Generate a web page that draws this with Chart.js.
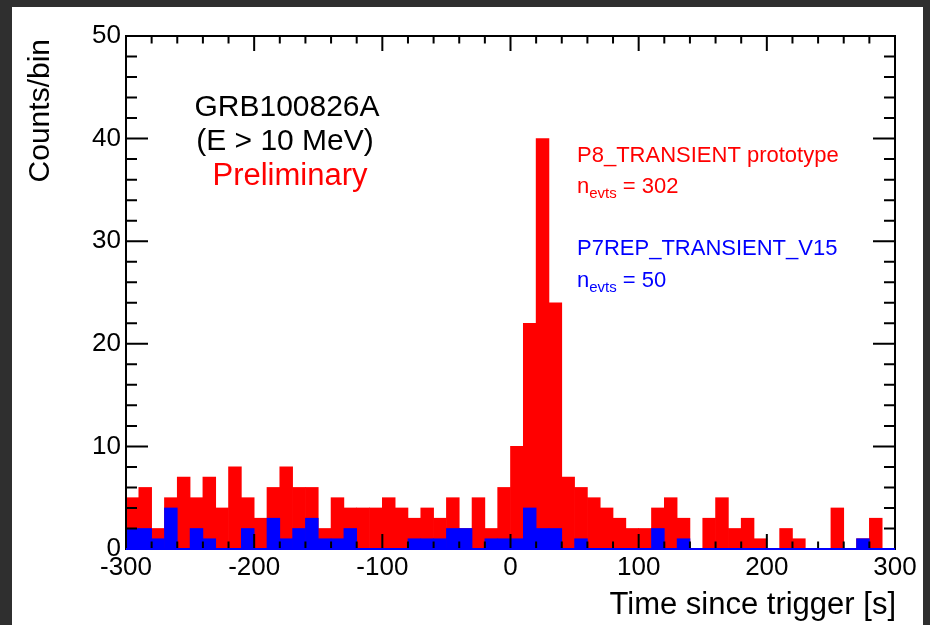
<!DOCTYPE html>
<html lang="zh-CN">
<head>
<meta charset="UTF-8">
<title>GRB100826A 光变曲线</title>
<script src="https://cdn.jsdelivr.net/npm/chart.js@4.4.1/dist/chart.umd.min.js"></script>
<style>
  html, body { margin: 0; padding: 0; background: #2f2f2f; }
  #wrap { width: 930px; height: 625px; }
</style>
</head>
<body>
<div id="wrap"><canvas id="grb-chart" width="930" height="625"></canvas></div>
<script>
// 分箱：-300 s 到 300 s，每箱 10 s
const binStart = -300;
const binWidth = 10;

// P8_TRANSIENT prototype 每箱计数
const p8Counts = [
  5, 6, 2, 5, 7, 5, 7, 4, 8, 5, 3, 6, 8, 6,
  6, 2, 5, 4, 4, 4, 5, 4, 3, 4, 3, 5, 2, 5, 2, 6,
  10, 22, 40, 24, 7, 6, 5, 4, 3,
  2, 2, 4, 5, 3, 0, 3, 5, 2, 3, 1, 0, 2, 1, 0, 0, 4, 0, 1, 3, 0
];

// P7REP_TRANSIENT_V15 每箱计数
const p7Counts = [
  2, 2, 1, 4, 0, 2, 1, 0, 0, 2, 0, 3, 1, 2,
  3, 1, 1, 2, 0, 0, 0, 0, 1, 1, 1, 2, 2, 0, 1, 1,
  1, 4, 2, 2, 0, 1, 0, 0, 0,
  0, 0, 2, 0, 1, 0, 0, 0, 0, 0, 0, 0, 0, 0, 0, 0, 0, 0, 1, 0, 0
];

const xTicks = [-300, -200, -100, 0, 100, 200, 300];
const yTicks = [0, 10, 20, 30, 40, 50];

const p8Events = 302;
const p7Events = 50;

const FONT = '"Liberation Sans", Arial, Helvetica, sans-serif';

// 计数 -> 柱子（x 取箱中心）
function toPoints(counts) {
  return counts.map((c, i) => ({ x: binStart + binWidth * (i + 0.5), y: c }));
}

// 背景、边框和刻度（刻度画在柱子上面）
const rootFrame = {
  id: 'rootFrame',
  beforeDraw(chart) {
    const ctx = chart.ctx;
    ctx.save();
    ctx.fillStyle = '#2f2f2f';
    ctx.fillRect(0, 0, chart.width, chart.height);
    ctx.fillStyle = '#ffffff';
    ctx.fillRect(12, 7, 911, 618);
    ctx.restore();
  },
  afterDatasetsDraw(chart) {
    const { ctx, chartArea: a } = chart;
    const x = chart.scales.x;
    const y = chart.scales.y;
    ctx.save();
    ctx.strokeStyle = '#000000';
    ctx.lineWidth = 2;
    ctx.beginPath();
    for (let v = x.min; v <= x.max; v += 20) {
      const px = x.getPixelForValue(v);
      const len = v % 100 === 0 ? 15 : 7.5;
      ctx.moveTo(px, a.bottom);
      ctx.lineTo(px, a.bottom - len);
      ctx.moveTo(px, a.top);
      ctx.lineTo(px, a.top + len);
    }
    for (let v = y.min; v <= y.max; v += 2) {
      const py = y.getPixelForValue(v);
      const len = v % 10 === 0 ? 22 : 11;
      ctx.moveTo(a.left, py);
      ctx.lineTo(a.left + len, py);
      ctx.moveTo(a.right, py);
      ctx.lineTo(a.right - len, py);
    }
    ctx.stroke();
    ctx.strokeRect(a.left, a.top, a.right - a.left, a.bottom - a.top);

    // 蓝色直方图在零线上的轮廓
    const y0 = y.getPixelForValue(0);
    ctx.strokeStyle = '#0000ff';
    ctx.beginPath();
    ctx.moveTo(x.getPixelForValue(x.min), y0);
    ctx.lineTo(x.getPixelForValue(x.max), y0);
    ctx.stroke();
    ctx.restore();
  }
};

// n_evts = N（带下标）
function drawNevts(ctx, x, y, value) {
  ctx.font = '22px ' + FONT;
  ctx.fillText('n', x, y);
  let w = ctx.measureText('n').width;
  ctx.font = '15px ' + FONT;
  ctx.fillText('evts', x + w, y + 5);
  w += ctx.measureText('evts').width;
  ctx.font = '22px ' + FONT;
  ctx.fillText(' = ' + value, x + w, y);
}

// 标注文字和坐标轴标题
const labels = {
  id: 'labels',
  afterDraw(chart) {
    const ctx = chart.ctx;
    ctx.save();
    ctx.textBaseline = 'alphabetic';

    ctx.textAlign = 'center';
    ctx.font = '30px ' + FONT;
    ctx.fillStyle = '#000000';
    ctx.fillText('GRB100826A', 287, 116);
    ctx.fillText('(E > 10 MeV)', 285, 150);
    ctx.fillStyle = '#ff0000';
    ctx.font = '31px ' + FONT;
    ctx.fillText('Preliminary', 290, 185);

    ctx.textAlign = 'left';
    ctx.fillStyle = '#ff0000';
    ctx.font = '22px ' + FONT;
    ctx.fillText('P8_TRANSIENT prototype', 577, 162);
    drawNevts(ctx, 577, 193, p8Events);
    ctx.fillStyle = '#0000ff';
    ctx.font = '22px ' + FONT;
    ctx.fillText('P7REP_TRANSIENT_V15', 577, 255);
    drawNevts(ctx, 577, 287, p7Events);

    // 坐标轴标题
    ctx.fillStyle = '#000000';
    ctx.font = '31px ' + FONT;
    ctx.textAlign = 'right';
    ctx.fillText('Time since trigger [s]', 896, 614);

    ctx.font = '30px ' + FONT;
    ctx.translate(49, 39);
    ctx.rotate(-Math.PI / 2);
    ctx.fillText('Counts/bin', 0, 0);
    ctx.restore();
  }
};

const ctx = document.getElementById('grb-chart').getContext('2d');
new Chart(ctx, {
  type: 'bar',
  data: {
    datasets: [
      {
        label: 'P7REP_TRANSIENT_V15',
        data: toPoints(p7Counts),
        backgroundColor: '#0000ff',
        order: 1
      },
      {
        label: 'P8_TRANSIENT prototype',
        data: toPoints(p8Counts),
        backgroundColor: '#ff0000',
        order: 2
      }
    ]
  },
  options: {
    responsive: false,
    animation: false,
    devicePixelRatio: 1,
    layout: {
      padding: { top: 36, right: 35, bottom: 0, left: 0 }
    },
    datasets: {
      bar: {
        grouped: false,
        barPercentage: 1,
        categoryPercentage: 1,
        borderWidth: 0
      }
    },
    plugins: {
      legend: { display: false },
      tooltip: { enabled: false }
    },
    scales: {
      x: {
        type: 'linear',
        min: xTicks[0],
        max: xTicks[xTicks.length - 1],
        offset: false,
        grid: { display: false, drawTicks: false },
        border: { display: false },
        ticks: {
          stepSize: xTicks[1] - xTicks[0],
          color: '#000000',
          font: { family: FONT, size: 26 },
          padding: 3,
          maxRotation: 0,
          autoSkip: false
        },
        afterFit(scale) { scale.height = 76; }
      },
      y: {
        type: 'linear',
        min: yTicks[0],
        max: yTicks[yTicks.length - 1],
        grid: { display: false, drawTicks: false },
        border: { display: false },
        ticks: {
          stepSize: yTicks[1] - yTicks[0],
          color: '#000000',
          font: { family: FONT, size: 26 },
          padding: 5
        },
        afterFit(scale) { scale.width = 126; }
      }
    }
  },
  plugins: [rootFrame, labels]
});
</script>
</body>
</html>
